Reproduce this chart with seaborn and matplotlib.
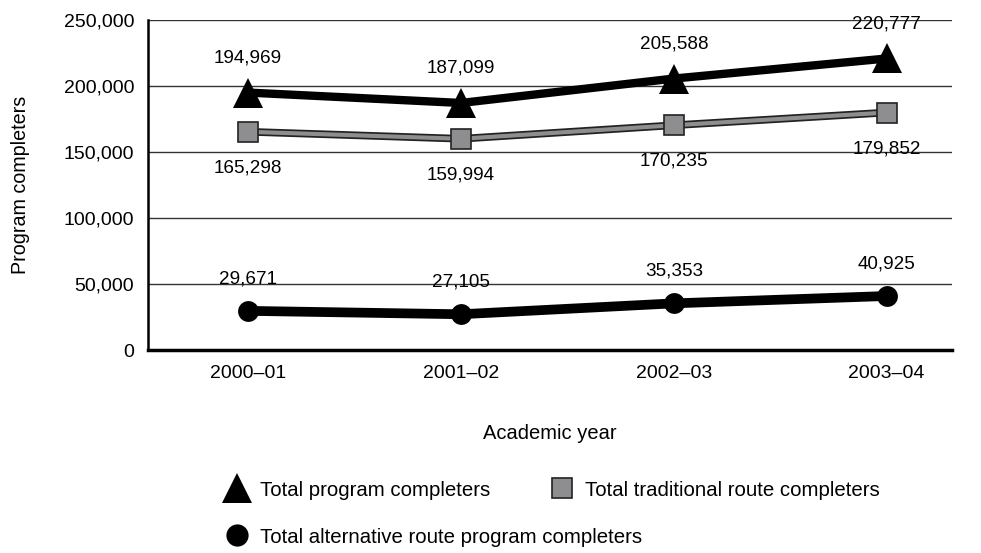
import matplotlib
matplotlib.use('Agg')
import matplotlib.pyplot as plt
import matplotlib.patheffects as pe
from matplotlib.lines import Line2D
import seaborn as sns
import pandas as pd

years = ['2000\u201301', '2001\u201302', '2002\u201303', '2003\u201304']
total_completers = [194969, 187099, 205588, 220777]
traditional_completers = [165298, 159994, 170235, 179852]
alternative_completers = [29671, 27105, 35353, 40925]

GRAY = '#8e8e90'


def fmt(v):
    return '{:,}'.format(v)


def main():
    sns.set_theme(style='white')
    plt.rcParams['font.family'] = ['Liberation Sans', 'DejaVu Sans']
    plt.rcParams['text.color'] = 'black'
    plt.rcParams['axes.labelcolor'] = 'black'

    df = pd.DataFrame({'year': years,
                       'total': total_completers,
                       'traditional': traditional_completers,
                       'alternative': alternative_completers})

    fig, ax = plt.subplots(figsize=(9.81, 5.53), dpi=100)
    fig.subplots_adjust(left=0.151, right=0.970, top=0.964, bottom=0.367)

    # horizontal rules
    for v in range(50000, 250001, 50000):
        ax.axhline(v, color='#333333', lw=1.0, zorder=0)

    # total completers: thick black line, triangles
    sns.lineplot(data=df, x='year', y='total', ax=ax, color='black', lw=6,
                 sort=False, zorder=3)
    sns.lineplot(data=df, x='year', y='total', ax=ax, color='black', lw=0,
                 marker='^', markersize=21, markeredgewidth=0, sort=False, zorder=4)

    # traditional: gray line outlined in black, squares
    sns.lineplot(data=df, x='year', y='traditional', ax=ax, color=GRAY, lw=3,
                 sort=False, zorder=3,
                 path_effects=[pe.Stroke(linewidth=5.5, foreground='#222222'), pe.Normal()])
    sns.lineplot(data=df, x='year', y='traditional', ax=ax, color=GRAY, lw=0,
                 marker='s', markersize=15, markeredgecolor='#222222',
                 markeredgewidth=1.2, sort=False, zorder=4)

    # alternative: thick black line, circles
    sns.lineplot(data=df, x='year', y='alternative', ax=ax, color='black', lw=7,
                 sort=False, zorder=3)
    sns.lineplot(data=df, x='year', y='alternative', ax=ax, color='black', lw=0,
                 marker='o', markersize=15, markeredgewidth=0, sort=False, zorder=4)

    for i in range(len(years)):
        ax.annotate(fmt(total_completers[i]), (i, total_completers[i]),
                    xytext=(0, 25), textcoords='offset points',
                    ha='center', va='center', fontsize=13.6)
        ax.annotate(fmt(traditional_completers[i]), (i, traditional_completers[i]),
                    xytext=(0, -26), textcoords='offset points',
                    ha='center', va='center', fontsize=13.6)
        ax.annotate(fmt(alternative_completers[i]), (i, alternative_completers[i]),
                    xytext=(0, 23), textcoords='offset points',
                    ha='center', va='center', fontsize=13.6)

    ax.set_xlim(-0.47, 3.305)
    ax.set_ylim(0, 250000)
    ax.set_yticks(range(0, 250001, 50000))
    ax.set_yticklabels([fmt(v) for v in range(0, 250001, 50000)])
    ax.tick_params(axis='both', length=0, labelsize=14, colors='black')
    ax.tick_params(axis='y', pad=10)
    ax.tick_params(axis='x', pad=11)

    ax.set_xlabel('Academic year', fontsize=14.5, labelpad=30)
    ax.set_ylabel('Program completers', fontsize=14.2, labelpad=24)

    for side in ['top', 'right']:
        ax.spines[side].set_visible(False)
    ax.spines['left'].set_linewidth(1.8)
    ax.spines['bottom'].set_linewidth(2.5)
    ax.spines['left'].set_color('black')
    ax.spines['bottom'].set_color('black')

    tri = Line2D([], [], ls='none', marker='^', color='black', markersize=21, markeredgewidth=0)
    sq = Line2D([], [], ls='none', marker='s', color=GRAY, markersize=15,
                markeredgecolor='#222222', markeredgewidth=1.2)
    circ = Line2D([], [], ls='none', marker='o', color='black', markersize=16, markeredgewidth=0)

    legend_kw = dict(loc='upper left', frameon=False, fontsize=14.7, handlelength=1.0,
                     handletextpad=0.64, borderaxespad=0, borderpad=0)
    fig.legend([tri, sq], ['Total program completers', 'Total traditional route completers'],
               ncol=2, columnspacing=3.0, bbox_to_anchor=(0.231, 0.131), **legend_kw)
    fig.legend([circ], ['Total alternative route program completers'],
               bbox_to_anchor=(0.231, 0.046), **legend_kw)

    fig.savefig('out.png', dpi=100)


if __name__ == '__main__':
    main()
